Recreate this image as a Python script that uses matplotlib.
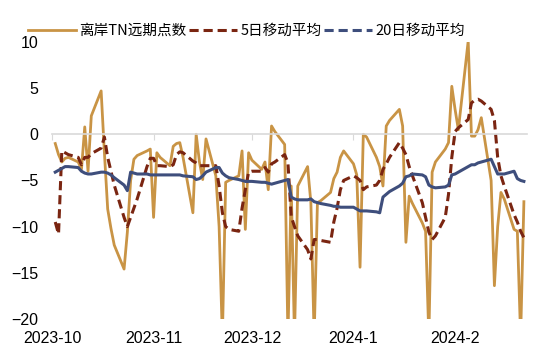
import pandas as pd
import matplotlib.pyplot as plt
import matplotlib.dates as mdates
import matplotlib.lines as mlines

plt.rcParams['font.family'] = ['Liberation Sans', 'Noto Sans CJK SC', 'DejaVu Sans']

# trading days, 2023-10-02 .. 2024-02-22
dates = pd.bdate_range('2023-10-02', '2024-02-22')

tn_points = [
    # Oct
    -1.0, -2.2, -3.0, -2.6, -2.5, -3.0, -3.8, 0.8, -4.0, 2.0, 4.7, -2.0, -8.1, -10.2, -12.0,
    -14.6, -10.6, -5.0, -2.7, -2.3, -1.8, -1.6,
    # Nov
    -9.0, -2.0, -2.5, -3.4, -1.3, -1.0, -0.9, -2.5, -8.5, 0.0, -3.0, -4.9, -0.5, -4.5, -10.0,
    -22.0, -5.2, -5.0, -4.5, -1.8, -10.3, -2.0,
    # Dec
    -2.8, -3.8, -3.0, -6.0, 0.9, 0.3, -1.1, -22.0, -5.6, -22.0, -5.6, -3.5, -7.4, -22.0, -7.4,
    -7.2, -6.3, -4.8, -4.1, -2.5, -1.8,
    # Jan
    -3.2, -4.4, -14.4, 0.0, -0.3, -2.5, -3.5, -5.6, 0.9, 1.5, 2.7, 0.9, -11.7, -6.7, -7.5,
    -9.6, -10.5, -22.0, -4.1, -3.0, -1.6, -0.9, 5.2,
    # Feb
    2.7, 0.5, 10.1, -0.2, -0.2, 0.5, 1.8, -5.0, -16.4, -10.0, -6.3, -7.0, -10.3, -10.5, -22.0, -7.3,
]

ma5 = [
    -9.5, -10.8, -1.8, -2.0, -2.2, -2.5, -3.3, -2.5, -2.5, -2.1, -1.5, -0.3, -2.5, -4.0, -5.5,
    -9.0, -10.0, -9.0, -8.0, -7.0, -3.5, -2.6,
    -2.6, -3.4, -3.4, -3.5, -3.3, -2.2, -1.9, -2.0, -2.9, -3.1, -3.4, -3.4, -3.4, -3.4, -5.6,
    -8.5, -10.0, -10.3, -10.5, -8.0, -6.0, -4.1,
    -4.0, -4.0, -3.6, -4.1, -3.2, -3.0, -2.2, -3.1, -8.9, -10.0, -11.0, -12.5, -13.5, -11.4, -11.4,
    -11.5, -11.7, -9.5, -8.0, -6.0, -5.0,
    -4.5, -4.7, -5.0, -6.0, -5.7, -5.5, -5.0, -3.8, -3.2, -2.5, -0.9, -1.5, -2.2, -3.5, -4.5,
    -7.4, -9.0, -10.6, -11.4, -11.0, -9.0, -6.5, -2.5,
    0.3, 0.7, 1.6, 3.4, 3.7, 3.8, 3.6, 2.7, 1.5, -2.5, -4.5, -5.6, -8.7, -9.5, -10.5, -11.2,
]

ma20 = [
    -4.1, -3.9, -3.7, -3.5, -3.5, -3.6, -4.0, -4.2, -4.3, -4.3, -4.1, -4.1, -4.2, -4.4, -4.7,
    -5.5, -6.1, -4.1, -4.2, -4.3, -4.3, -4.4,
    -4.4, -4.4, -4.4, -4.4, -4.4, -4.4, -4.4, -4.5, -4.6, -4.9, -4.8, -4.5, -4.1, -3.6, -3.6,
    -4.2, -4.5, -4.7, -4.9, -5.0, -5.1, -5.1,
    -5.1, -5.2, -5.2, -5.3, -5.4, -5.3, -5.0, -4.9, -6.8, -7.0, -7.1, -7.1, -7.0, -7.3, -7.4,
    -7.5, -7.7, -7.8, -7.8, -7.9, -7.9,
    -7.9, -8.1, -8.3, -8.3, -8.3, -8.4, -8.5, -6.8, -6.5, -6.2, -5.6, -5.3, -4.6, -4.5, -4.3,
    -4.4, -4.6, -5.5, -5.7, -5.8, -5.7, -5.5, -4.4,
    -4.3, -4.1, -3.5, -3.3, -3.3, -3.1, -3.0, -2.7, -3.5, -4.3, -4.3, -4.3, -4.0, -4.8, -5.0, -5.1,
]

labels = ['离岸TN远期点数', '5日移动平均', '20日移动平均']

fig = plt.figure(figsize=(5.5, 3.62), dpi=100)
ax = fig.add_axes([0.0945, 0.119, 0.864, 0.765])

ax.plot(dates, tn_points, color='#C99445', lw=2.0, label=labels[0])
ax.plot(dates, ma5, color='#7A2511', lw=2.2, ls=(0, (3, 1.6)), label=labels[1])
ax.plot(dates, ma20, color='#3E4E7C', lw=2.2, label=labels[2])

ax.set_ylim(-20, 10)
ax.set_yticks([-20, -15, -10, -5, 0, 5, 10])
ax.set_xlim(pd.Timestamp('2023-10-01'), pd.Timestamp('2024-02-23'))

for s in ['top', 'right', 'left']:
    ax.spines[s].set_visible(False)
ax.spines['bottom'].set_position(('data', 0))
ax.spines['bottom'].set_color('#d9d9d9')
ax.spines['bottom'].set_linewidth(1.2)
ax.xaxis.set_major_locator(mdates.MonthLocator())
ax.tick_params(axis='x', direction='out', length=4, color='#d9d9d9', labelbottom=False)
ax.tick_params(axis='y', length=0, labelsize=11.5, pad=10)

sec = ax.secondary_xaxis(0)
sec.xaxis.set_major_locator(mdates.MonthLocator())
sec.xaxis.set_major_formatter(plt.FuncFormatter(
    lambda v, p: f"{mdates.num2date(v).year}-{mdates.num2date(v).month}"))
sec.spines['bottom'].set_visible(False)
sec.tick_params(length=0, labelsize=11.5, pad=9)

# legend shows the 20-day line dashed, as in the original
handles, _ = ax.get_legend_handles_labels()
h20 = mlines.Line2D([], [], color='#3E4E7C', lw=2.2, ls=(0, (3, 1.6)))
fig.legend([handles[0], handles[1], h20], labels, loc='center',
           bbox_to_anchor=(0.448, 0.915), ncol=3, frameon=False,
           handlelength=3.3, handletextpad=0.2, columnspacing=0.2,
           prop={'family': ['Noto Sans CJK SC', 'DejaVu Sans'], 'size': 10.5})

fig.savefig('out.png', dpi=100)
